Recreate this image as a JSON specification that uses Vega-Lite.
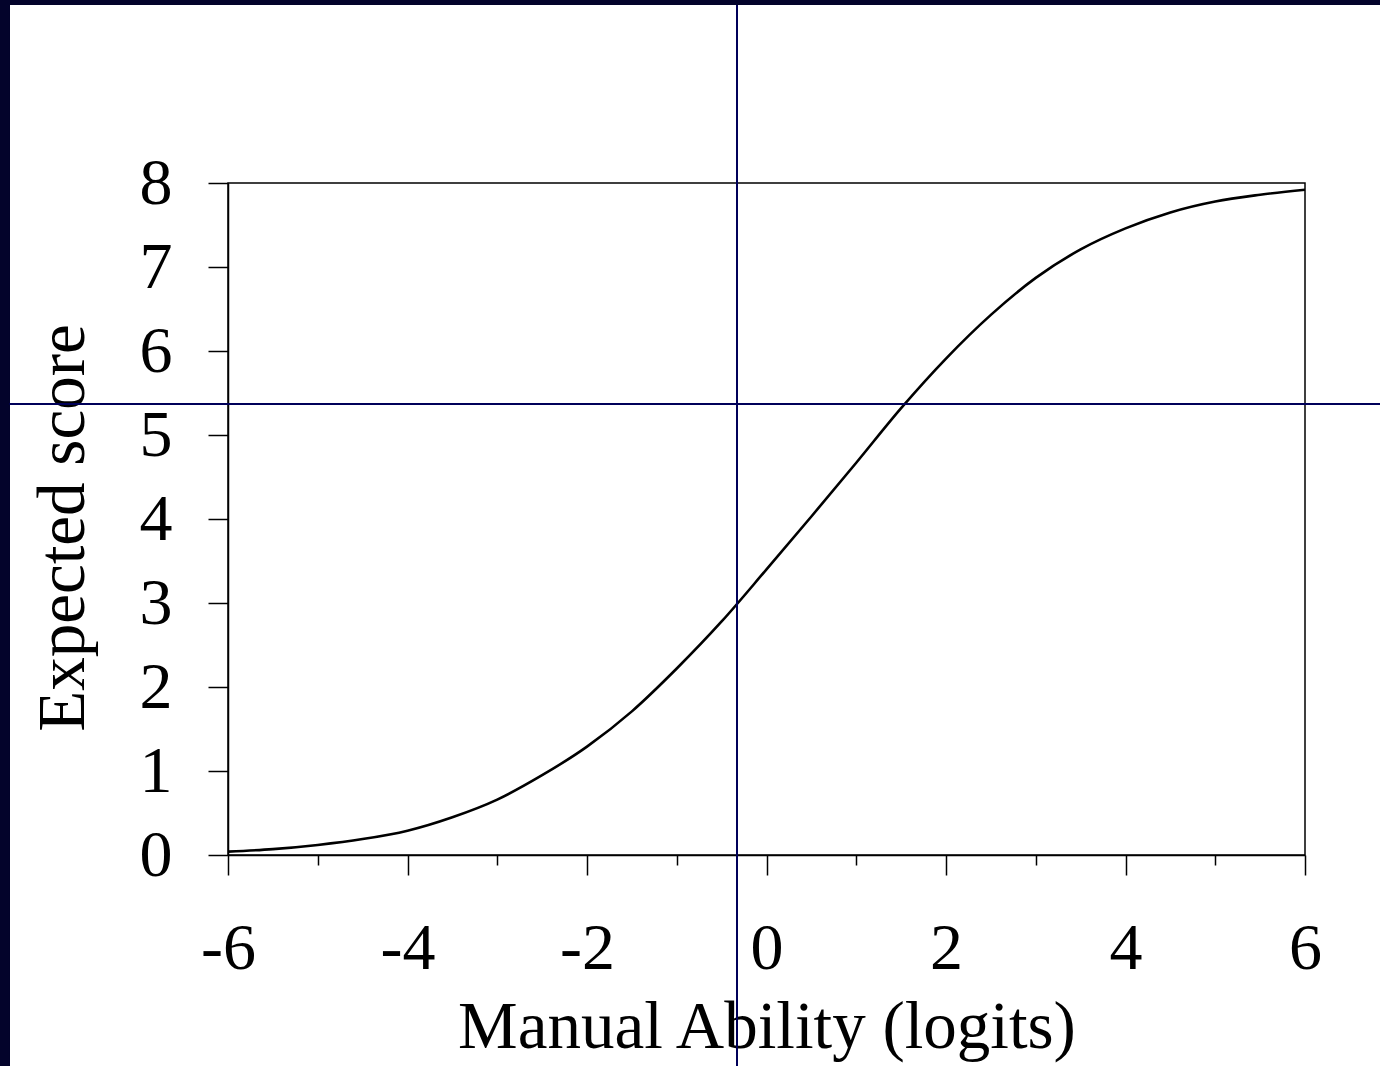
{
  "$schema": "https://vega.github.io/schema/vega-lite/v6.json",
  "width": 1077,
  "height": 672,
  "autosize": "none",
  "padding": {"left": 228, "top": 183, "right": 75, "bottom": 211},
  "background": "white",
  "config": {
    "font": "Liberation Serif",
    "view": {"stroke": "black", "strokeWidth": 1.5},
    "axis": {
      "grid": false,
      "domainColor": "black",
      "domainWidth": 1.5,
      "tickColor": "black",
      "tickWidth": 1.5,
      "labelFont": "Liberation Serif",
      "labelFontSize": 66,
      "labelColor": "black",
      "labelFlush": false,
      "labelOverlap": false,
      "titleFont": "Liberation Serif",
      "titleFontSize": 67,
      "titleFontWeight": "normal",
      "titleColor": "black",
      "zindex": 1
    }
  },
  "data": {
    "values": [
      {"ability": -6.0, "score": 0.04},
      {"ability": -5.5, "score": 0.07},
      {"ability": -5.0, "score": 0.12},
      {"ability": -4.5, "score": 0.19},
      {"ability": -4.0, "score": 0.29},
      {"ability": -3.5, "score": 0.45},
      {"ability": -3.0, "score": 0.66},
      {"ability": -2.5, "score": 0.95},
      {"ability": -2.0, "score": 1.29},
      {"ability": -1.5, "score": 1.71},
      {"ability": -1.0, "score": 2.22},
      {"ability": -0.5, "score": 2.78},
      {"ability": 0.0, "score": 3.4},
      {"ability": 0.5, "score": 4.03},
      {"ability": 1.0, "score": 4.67},
      {"ability": 1.5, "score": 5.32},
      {"ability": 2.0, "score": 5.91},
      {"ability": 2.5, "score": 6.43},
      {"ability": 3.0, "score": 6.87},
      {"ability": 3.5, "score": 7.21},
      {"ability": 4.0, "score": 7.46},
      {"ability": 4.5, "score": 7.65},
      {"ability": 5.0, "score": 7.78},
      {"ability": 5.5, "score": 7.86},
      {"ability": 6.0, "score": 7.92}
    ]
  },
  "layer": [
    {
      "mark": {"type": "line", "color": "black", "strokeWidth": 2.6, "interpolate": "monotone"},
      "encoding": {
        "x": {
          "field": "ability",
          "type": "quantitative",
          "scale": {"domain": [-6, 6], "nice": false, "zero": false},
          "axis": {
            "values": [-6, -5, -4, -3, -2, -1, 0, 1, 2, 3, 4, 5, 6],
            "tickSize": {"condition": {"test": "datum.value % 2 === 0", "value": 20}, "value": 10},
            "labelExpr": "datum.value % 2 === 0 ? '' + datum.value : ''",
            "labelBaseline": "top",
            "labelPadding": 41,
            "title": "Manual Ability (logits)",
            "titleBaseline": "alphabetic",
            "titleY": 192
          }
        },
        "y": {
          "field": "score",
          "type": "quantitative",
          "scale": {"domain": [0, 8], "nice": false},
          "axis": {
            "values": [0, 1, 2, 3, 4, 5, 6, 7, 8],
            "format": "d",
            "tickSize": 20,
            "labelPadding": 36,
            "labelBaseline": "middle",
            "title": "Expected score",
            "titleAngle": 270,
            "titleAlign": "center",
            "titleBaseline": "alphabetic",
            "titleX": -145,
            "titleY": 344.5
          }
        }
      }
    },
    {
      "mark": {"type": "rect", "color": "#03032b"},
      "encoding": {
        "x": {"datum": -8.7, "type": "quantitative"},
        "x2": {"datum": -8.43},
        "y": {"datum": -2.6, "type": "quantitative"},
        "y2": {"datum": 10.25}
      }
    },
    {
      "mark": {"type": "rect", "color": "#03032b"},
      "encoding": {
        "x": {"datum": -8.7, "type": "quantitative"},
        "x2": {"datum": 7.8},
        "y": {"datum": 10.12, "type": "quantitative"},
        "y2": {"datum": 10.25}
      }
    },
    {
      "mark": {"type": "rule", "color": "#00005a", "strokeWidth": 1.3},
      "encoding": {
        "x": {"datum": -0.33, "type": "quantitative"},
        "y": {"datum": -2.6, "type": "quantitative"},
        "y2": {"datum": 10.12}
      }
    },
    {
      "mark": {"type": "rule", "color": "#00005a", "strokeWidth": 1.3},
      "encoding": {
        "y": {"datum": 5.37, "type": "quantitative"},
        "x": {"datum": -8.43, "type": "quantitative"},
        "x2": {"datum": 7.8}
      }
    }
  ]
}
